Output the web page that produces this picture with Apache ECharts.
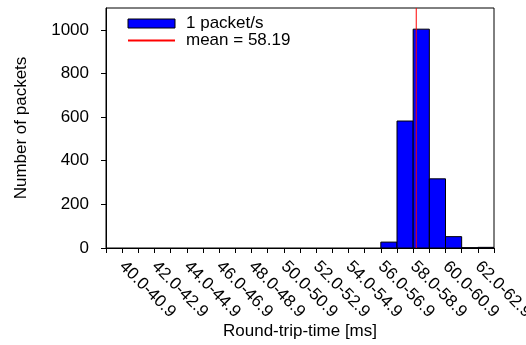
<!DOCTYPE html>
<html>
<head>
<meta charset="utf-8">
<script src="https://cdn.jsdelivr.net/npm/echarts@6/dist/echarts.min.js"></script>
<style>
  html, body { margin: 0; padding: 0; background: #fff; }
  #chart { width: 526px; height: 345px; }
</style>
</head>
<body>
<div id="chart"></div>
<script>
// Histogram bins (lower edge in ms) and packet counts
const binStarts = [56, 57, 58, 59, 60, 61, 62];
const packetCounts = [27, 582, 1003, 317, 52, 1, 3];
const meanRtt = 58.19;

// Axis ticks and labels
const xLabelValues = [40, 42, 44, 46, 48, 50, 52, 54, 56, 58, 60, 62];
const xTickLabels = ['40.0-40.9', '42.0-42.9', '44.0-44.9', '46.0-46.9', '48.0-48.9', '50.0-50.9',
                     '52.0-52.9', '54.0-54.9', '56.0-56.9', '58.0-58.9', '60.0-60.9', '62.0-62.9'];
const yTickValues = [0, 200, 400, 600, 800, 1000];

const xMin = 39, xMax = 63, yMax = 1100;
const FONT = '"Liberation Sans", Arial, Helvetica, sans-serif';

const chart = echarts.init(document.getElementById('chart'), null, { renderer: 'canvas' });

chart.setOption({
  animation: false,
  grid: {
    left: 106, right: 32, top: 8, bottom: 97,
    containLabel: false,
    outerBoundsMode: 'none',
    show: true, borderColor: '#000', borderWidth: 1, backgroundColor: 'transparent'
  },
  legend: {
    orient: 'vertical',
    left: 127, top: 15,
    padding: 0,
    itemWidth: 47, itemHeight: 9, itemGap: 0,
    textStyle: { fontFamily: FONT, fontSize: 17, lineHeight: 17, color: '#000', padding: [0, 0, 0, 6] },
    data: [
      { name: '1 packet/s', icon: 'rect', itemStyle: { color: '#0000ff', borderColor: '#000', borderWidth: 1 } },
      { name: 'mean = ' + meanRtt.toFixed(2), itemStyle: { opacity: 0 } }
    ]
  },
  xAxis: {
    type: 'value',
    min: xMin, max: xMax, interval: 1,
    name: 'Round-trip-time [ms]',
    nameLocation: 'middle', nameGap: 75,
    nameMoveOverlap: false,
    nameTextStyle: { fontFamily: FONT, fontSize: 17, color: '#000' },
    axisLine: { show: true, onZero: false, lineStyle: { color: '#000', width: 1 } },
    axisTick: { show: true, inside: false, length: 5, lineStyle: { color: '#000' } },
    axisLabel: {
      customValues: xLabelValues,
      rotate: -45, margin: 16,
      fontFamily: FONT, fontSize: 17, color: '#000',
      formatter: v => {
        const i = xLabelValues.indexOf(Math.round(v));
        return i >= 0 ? xTickLabels[i] : '';
      }
    },
    splitLine: { show: false }
  },
  yAxis: {
    type: 'value',
    min: 0, max: yMax, interval: 200,
    name: 'Number of packets',
    nameLocation: 'middle', nameGap: 76, nameRotate: 90,
    nameMoveOverlap: false,
    nameTextStyle: { fontFamily: FONT, fontSize: 17, color: '#000' },
    axisLine: { show: true, lineStyle: { color: '#000', width: 1 } },
    axisTick: { show: true, inside: false, length: 5, customValues: yTickValues, lineStyle: { color: '#000' } },
    axisLabel: {
      customValues: yTickValues, margin: 17,
      fontFamily: FONT, fontSize: 17, color: '#000',
      formatter: v => String(v)
    },
    splitLine: { show: false }
  },
  series: [
    {
      name: '1 packet/s',
      type: 'custom',
      clip: true,
      itemStyle: { color: '#0000ff', borderColor: '#000', borderWidth: 1 },
      encode: { x: 0, y: 1 },
      data: binStarts.map((b, i) => [b, packetCounts[i]]),
      renderItem: (params, api) => {
        const lo = api.value(0);
        const n = api.value(1);
        const p0 = api.coord([lo, 0]);
        const p1 = api.coord([lo + 1, n]);
        return {
          type: 'rect',
          shape: { x: p0[0], y: p1[1], width: p1[0] - p0[0], height: p0[1] - p1[1] },
          style: { fill: '#0000ff', stroke: '#000', lineWidth: 1 }
        };
      }
    },
    {
      name: 'mean = ' + meanRtt.toFixed(2),
      type: 'line',
      symbol: 'none',
      silent: true,
      z: 5,
      lineStyle: { color: '#ff0000', width: 1 },
      itemStyle: { color: '#ff0000' },
      data: [[meanRtt, 0], [meanRtt, yMax]]
    }
  ]
});
</script>
</body>
</html>
